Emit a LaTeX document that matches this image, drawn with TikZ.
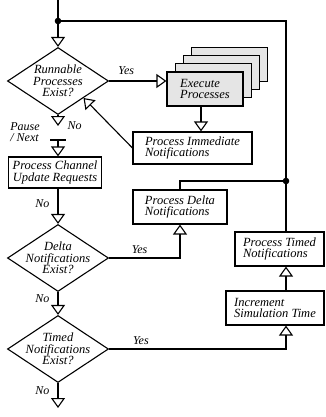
\documentclass[tikz,border=0pt]{standalone}
\usepackage{fontspec}
\setmainfont{Liberation Serif}
\usetikzlibrary{shapes.geometric,arrows.meta}

\begin{document}
\begin{tikzpicture}[x=1pt,y=-1pt,line width=1.1pt,
    font=\fontsize{12.5}{11.5}\selectfont\itshape,
    flow/.style={-{Triangle[open,width=14pt,length=10pt]}},
    test/.style={diamond,draw,minimum width=101pt,minimum height=67pt,inner sep=0pt},
    box/.style={draw,fill=white,align=left,minimum height=34pt,inner sep=2pt},
    lbl/.style={font=\fontsize{12}{11}\selectfont\itshape,inner sep=0pt}]
  \useasboundingbox (0,0) rectangle (325,417);
  \node[test,label={[align=center]center:Runnable\\Processes\\Exist?}] (run) at (58,81) {};
  \node[test,label={[align=center]center:Delta\\Notifications\\Exist?}] (delt) at (58,258) {};
  \node[test,label={[align=center]center:Timed\\Notifications\\Exist?}] (tim) at (58,349) {};
  \foreach \k in {3,2,1}
    \node[box,fill=gray!20,minimum width=76pt] (ex\k) at ({205+8.3*\k},{89-8.3*\k}) {};
  \node[box,fill=gray!20,minimum width=76pt] (ex) at (205,89) {Execute\\Processes};
  \node[box,minimum width=119pt,minimum height=32pt] (imm) at (192.5,148) {Process Immediate\\Notifications};
  \node[box,align=center,minimum width=93pt,minimum height=31pt] (upd) at (55,172.5) {Process Channel\\Update Requests};
  \node[box,minimum width=94pt] (dbox) at (180,207) {Process Delta\\Notifications};
  \node[box,minimum width=89pt] (tbox) at (279.5,249) {Process Timed\\Notifications};
  \node[box,minimum width=98pt] (inc) at (275,308) {Increment\\Simulation Time};
  \node[lbl,align=left] (pause) at (25,132) {Pause\\/ Next};
  \coordinate (top) at (58,0);
  \coordinate (j1) at (58,21);
  \coordinate (j2) at (286,181);
  \coordinate (p1) at (58,126);
  \coordinate (brk) at (58,140);
  \coordinate (end) at (58,408);
  \draw[flow] (top) -- (run.north);
  \draw (j1) -- (j1 -| j2) -- (j2 |- tbox.north);
  \draw (dbox.north) |- (j2);
  \fill (j1) circle (3.3pt) (j2) circle (3.3pt);
  \draw[flow] (run.east) -- (run.east -| ex.west) node[lbl,pos=0.3,above=6pt] {Yes};
  \draw[flow] ([xshift=-4pt]ex.south) -- ([xshift=-4pt]ex.south |- imm.north);
  \draw[flow] (imm.west) -- (run.south east);
  \draw[flow] (run.south) -- (p1) node[lbl,right=9pt] {No};
  \draw ([xshift=-8pt]brk) -- ([xshift=8pt]brk);
  \draw[flow] (brk) -- (brk |- upd.north);
  \draw[flow] (brk |- upd.south) -- (delt.north) node[lbl,pos=0.43,left=8pt] {No};
  \draw[flow] (delt.east) -| (dbox.south) node[lbl,pos=0.215,above=4pt] {Yes};
  \draw[flow] (delt.south) -- (tim.north) node[lbl,pos=0.3,left=8pt] {No};
  \draw[flow] (tim.east) -| (j2 |- inc.south) node[lbl,pos=0.09,above=4pt] {Yes};
  \draw[flow] (j2 |- inc.north) -- (j2 |- tbox.south);
  \draw[flow] (tim.south) -- (end) node[lbl,pos=0.32,left=8pt] {No};
\end{tikzpicture}
\end{document}
